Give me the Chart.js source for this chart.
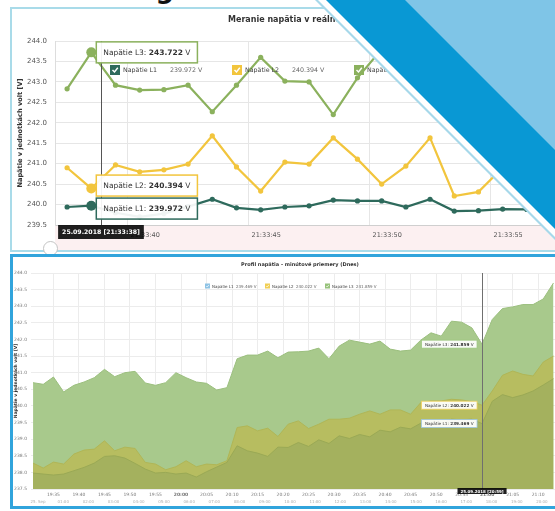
<!DOCTYPE html>
<html>
<head>
<meta charset="utf-8">
<script src="https://cdn.jsdelivr.net/npm/chart.js@4.4.0/dist/chart.umd.min.js"></script>
<style>
  html, body { margin: 0; padding: 0; background: #fff; }
  body { width: 555px; height: 511px; position: relative; overflow: hidden; font-family: "DejaVu Sans", Verdana, sans-serif; }
  .abs { position: absolute; }
  #heading { right: 381px; top: -26px; font: bold 26px "DejaVu Sans"; color: #111; white-space: nowrap; }
  #frameTop { left: 10px; top: 7px; width: 570px; height: 245px; border: 2px solid #a9dbe9; box-sizing: border-box; }
  #navTop { left: 55px; top: 226px; width: 500px; height: 24px; background: #fcf0f1; }
  #handle { left: 43px; top: 241px; width: 13px; height: 13px; border: 1px solid #c4c4c4; border-radius: 50%; background: #fff; }
  #frameBottom { left: 10px; top: 254px; width: 570px; height: 255px; border: 3px solid #31a4dc; box-sizing: border-box; }
  #liveWrap { left: 0; top: 0; width: 555px; height: 250px; z-index: 1; }
  #profileWrap { left: 0; top: 258px; width: 555px; height: 250px; z-index: 1; }
  #titleTop { left: 228px; top: 15px; font: bold 8px "DejaVu Sans"; color: #333; white-space: nowrap; z-index: 2; }
  #titleBottom { left: 180px; width: 240px; top: 261px; text-align: center; font: bold 5px "DejaVu Sans"; color: #333; white-space: nowrap; z-index: 2; }
  .ban { left: 0; top: 0; width: 555px; height: 260px; z-index: 5; }
  #banA { background: #a6d8ea; clip-path: polygon(315px 0, 555px 0, 555px 240px); }
  #banB { background: #fff; clip-path: polygon(318px 0, 555px 0, 555px 237px); }
  #banC { background: #0998d4; clip-path: polygon(326px 0, 555px 0, 555px 229px); }
  #banD { background: #7fc5e7; clip-path: polygon(405px 0, 555px 0, 555px 150px); }
</style>
</head>
<body>
<div id="heading" class="abs">Monitoring</div>
<div id="frameTop" class="abs"></div>
<div id="navTop" class="abs"></div>
<div id="handle" class="abs"></div>
<div id="frameBottom" class="abs"></div>
<div id="titleTop" class="abs">Meranie napätia v reálnom čase</div>
<div id="titleBottom" class="abs">Profil napätia - minútové priemery (Dnes)</div>
<div id="liveWrap" class="abs"><canvas id="live" width="555" height="250"></canvas></div>
<div id="profileWrap" class="abs"><canvas id="profile" width="555" height="250"></canvas></div>
<div id="banA" class="abs ban"></div>
<div id="banB" class="abs ban"></div>
<div id="banC" class="abs ban"></div>
<div id="banD" class="abs ban"></div>

<script>
// --- live chart (seconds within 21:33) ---
const liveDate = "25.09.2018";
const liveClock = "21:33";
const liveSeconds = [37.5, 38.5, 39.5, 40.5, 41.5, 42.5, 43.5, 44.5, 45.5, 46.5,
                     47.5, 48.5, 49.5, 50.5, 51.5, 52.5, 53.5, 54.5, 55.5, 56.5];
const liveL1 = [239.94, 239.972, 239.80, 239.70, 239.78, 239.95, 240.13, 239.92, 239.87, 239.94,
                239.97, 240.11, 240.09, 240.09, 239.94, 240.13, 239.84, 239.85, 239.89, 239.88];
const liveL2 = [240.90, 240.394, 240.97, 240.80, 240.85, 240.99, 241.68, 240.92, 240.33, 241.04,
                240.99, 241.63, 241.11, 240.50, 240.94, 241.63, 240.21, 240.31, 240.90, 240.70];
const liveL3 = [242.83, 243.722, 242.92, 242.80, 242.81, 242.92, 242.27, 242.92, 243.60, 243.02,
                243.00, 242.20, 243.10, 243.80, 243.35, 242.85, 243.25, 243.50, 243.05, 243.20];
const liveHover = 1;
const liveCursor = 38.9;
const liveTicks = [239.5, 244.0];

// --- profile chart (minute averages, today) ---
const profileDate = "25.09.2018";
const profileTimes = ["19:31","19:33","19:35","19:37","19:39","19:41","19:43","19:45","19:47","19:49",
                      "19:51","19:53","19:55","19:57","19:59","20:01","20:03","20:05","20:07","20:09",
                      "20:11","20:13","20:15","20:17","20:19","20:21","20:23","20:25","20:27","20:29",
                      "20:31","20:33","20:35","20:37","20:39","20:41","20:43","20:45","20:47","20:49",
                      "20:51","20:53","20:55","20:57","20:59","21:01","21:03","21:05","21:07","21:09",
                      "21:11","21:13"];
const profileL1 = [237.98, 237.95, 237.92, 237.95, 238.05, 238.15, 238.28, 238.48, 238.50, 238.43,
                   238.27, 238.10, 237.98, 238.00, 237.95, 237.98, 237.86, 238.02, 238.16, 238.30,
                   238.80, 238.65, 238.58, 238.48, 238.76, 238.75, 238.90, 238.78, 238.98, 238.87,
                   239.10, 239.02, 239.14, 239.07, 239.27, 239.22, 239.36, 239.31, 239.48, 239.46,
                   239.45, 239.60, 239.58, 239.60, 239.469, 240.14, 240.34, 240.25, 240.33, 240.45,
                   240.63, 240.82];
const profileL2 = [238.28, 238.13, 238.31, 238.25, 238.55, 238.67, 238.70, 238.95, 238.65, 238.76,
                   238.72, 238.30, 238.25, 238.08, 238.17, 238.35, 238.17, 238.25, 238.23, 238.35,
                   239.35, 239.40, 239.25, 239.33, 239.08, 239.45, 239.55, 239.32, 239.45, 239.60,
                   239.60, 239.63, 239.75, 239.85, 239.75, 239.88, 239.88, 239.75, 240.10, 240.15,
                   240.15, 240.20, 240.18, 240.13, 240.022, 240.45, 240.92, 241.05, 240.95, 240.90,
                   241.32, 241.50];
const profileL3 = [240.70, 240.65, 240.87, 240.42, 240.62, 240.72, 240.85, 241.10, 240.88, 241.00,
                   241.04, 240.69, 240.62, 240.70, 241.00, 240.85, 240.72, 240.68, 240.48, 240.55,
                   241.42, 241.53, 241.53, 241.65, 241.45, 241.62, 241.63, 241.65, 241.74, 241.42,
                   241.80, 241.98, 241.92, 241.86, 241.95, 241.71, 241.65, 241.68, 241.98, 242.20,
                   242.10, 242.55, 242.52, 242.35, 241.859, 242.60, 242.93, 242.98, 243.05, 243.05,
                   243.22, 243.70];
const profileHover = 44;
const profileRange = ["19:30.6", "21:13.3"];
const navDayLabel = "25. Sep";

Chart.defaults.font.family = '"DejaVu Sans", Verdana, sans-serif';

const pad = (n) => String(Math.round(n)).padStart(2, "0");
const toMin = (t) => { const [h, m] = t.split(":"); return +h * 60 + parseFloat(m); };
const clock = (m) => pad(Math.floor(m / 60)) + ":" + pad(m % 60);

// highcharts-like split tooltip with crosshair and date flag
const splitTooltip = {
  id: "splitTooltip",
  afterDatasetsDraw(chart, args, o) {
    if (o.index == null) return;
    const ctx = chart.ctx, area = chart.chartArea, idx = o.index;
    const metas = chart.data.datasets.map((ds, i) => ({ ds, el: chart.getDatasetMeta(i).data[idx] }));
    const cx = o.cursor != null ? chart.scales.x.getPixelForValue(o.cursor) : metas[0].el.x;
    ctx.save();
    ctx.strokeStyle = o.lineColor;
    ctx.lineWidth = 1;
    ctx.beginPath();
    ctx.moveTo(Math.round(cx) + 0.5, area.top);
    ctx.lineTo(Math.round(cx) + 0.5, area.bottom);
    ctx.stroke();

    const fontN = o.font + 'px "DejaVu Sans"';
    const fontB = "bold " + o.font + 'px "DejaVu Sans"';
    const boxes = metas.map(({ ds, el }) => {
      const label = ds.label + ": ", val = ds.data[idx].y.toFixed(3), unit = " V";
      ctx.font = fontN;
      const w1 = ctx.measureText(label).width, w3 = ctx.measureText(unit).width;
      ctx.font = fontB;
      const w2 = ctx.measureText(val).width;
      return { ds, label, val, unit, w1, w2, w3, w: w1 + w2 + w3 + o.pad * 2, y: el.y, px: el.x };
    }).sort((a, b) => a.y - b.y);
    for (let i = 1; i < boxes.length; i++) {
      const d = boxes[i - 1].y + o.boxH + o.gap - boxes[i].y;
      if (d > 0) { boxes[i - 1].y -= d / 2; boxes[i].y += d / 2; }
    }
    ctx.textBaseline = "middle";
    boxes.forEach((b) => {
      const x = o.side === "right" ? b.px + o.offset : b.px - o.offset - b.w;
      const y = b.y - o.boxH / 2;
      ctx.fillStyle = "rgba(255,255,255,0.93)";
      ctx.fillRect(x, y, b.w, o.boxH);
      ctx.strokeStyle = b.ds.tipColor || b.ds.borderColor;
      ctx.lineWidth = o.border;
      ctx.strokeRect(x, y, b.w, o.boxH);
      ctx.fillStyle = "#333";
      let tx = x + o.pad;
      ctx.font = fontN; ctx.fillText(b.label, tx, b.y + 0.5); tx += b.w1;
      ctx.font = fontB; ctx.fillText(b.val, tx, b.y + 0.5); tx += b.w2;
      ctx.font = fontN; ctx.fillText(b.unit, tx, b.y + 0.5);
    });

    ctx.font = "bold " + o.dateFont + 'px "DejaVu Sans"';
    const dw = ctx.measureText(o.date).width + o.datePad * 2;
    const dx = Math.max(area.left, cx - dw / 2);
    const dy = area.bottom + o.dateDy;
    ctx.fillStyle = "rgba(0,0,0,0.88)";
    ctx.fillRect(dx, dy, dw, o.dateH);
    ctx.fillStyle = "#fff";
    ctx.fillText(o.date, dx + o.datePad, dy + o.dateH / 2 + 0.5);
    ctx.restore();
  }
};

// legend floating inside the plot, with the hovered values
const floatLegend = {
  id: "floatLegend",
  afterDraw(chart, args, o) {
    if (o.x == null) return;
    const ctx = chart.ctx;
    ctx.save();
    ctx.textBaseline = "middle";
    chart.data.datasets.forEach((ds, i) => {
      const x = o.x + i * o.step, y = o.y, s = o.sq;
      ctx.fillStyle = ds.legendColor || ds.borderColor;
      ctx.fillRect(x, y - s / 2, s, s);
      ctx.strokeStyle = "#fff";
      ctx.lineWidth = Math.max(0.6, s / 7);
      ctx.beginPath();
      ctx.moveTo(x + s * 0.25, y);
      ctx.lineTo(x + s * 0.45, y + s * 0.2);
      ctx.lineTo(x + s * 0.78, y - s * 0.22);
      ctx.stroke();
      ctx.font = o.font + 'px "DejaVu Sans"';
      ctx.fillStyle = "#444";
      ctx.fillText(ds.label, x + o.labelDx, y + 0.5);
      ctx.fillStyle = "#666";
      ctx.fillText(ds.data[o.index].y.toFixed(3) + " V", x + o.valueDx, y + 0.5);
    });
    ctx.restore();
  }
};

const liveSeries = (label, values, color) => ({
  label,
  data: liveSeconds.map((s, i) => ({ x: s, y: values[i] })),
  borderColor: color,
  backgroundColor: color,
  borderWidth: 2.2,
  tension: 0,
  pointRadius: (c) => (c.dataIndex === liveHover ? 5 : 2.6),
  pointBorderWidth: 0,
  pointBackgroundColor: color
});

new Chart(document.getElementById("live"), {
  type: "line",
  data: {
    datasets: [
      liveSeries("Napätie L1", liveL1, "#2e6a5c"),
      liveSeries("Napätie L2", liveL2, "#f2c53d"),
      liveSeries("Napätie L3", liveL3, "#8bb15d")
    ]
  },
  options: {
    responsive: false,
    animation: false,
    layout: { padding: { top: 41, right: 10, left: 0, bottom: 0 } },
    plugins: {
      legend: { display: false },
      tooltip: { enabled: false },
      title: { display: false },
      splitTooltip: {
        index: liveHover, cursor: liveCursor, side: "right", offset: 5, boxH: 21, gap: 2,
        font: 7.5, pad: 7, border: 1.5, lineColor: "#555",
        date: liveDate + " [" + liveClock + ":" + pad(Math.floor(liveSeconds[liveHover])) + "]",
        dateFont: 6.2, datePad: 4, dateH: 14, dateDy: 0
      },
      floatLegend: { index: liveHover, x: 110, y: 70, step: 122, sq: 10, font: 6.3, labelDx: 13, valueDx: 60 }
    },
    scales: {
      x: {
        type: "linear", min: 37, max: 57.25,
        grid: { color: "#e6e6e6", drawTicks: false },
        border: { color: "#cfcfcf" },
        ticks: {
          stepSize: 5, includeBounds: false, align: "start", labelOffset: 3, padding: 6,
          maxRotation: 0, autoSkip: false, color: "#555", font: { size: 6.5 },
          callback: (v) => liveClock + ":" + pad(v)
        },
        afterFit: (s) => { s.height = 25; }
      },
      y: {
        min: liveTicks[0], max: liveTicks[1],
        grid: { color: "#e6e6e6", drawTicks: false },
        border: { color: "#dddddd" },
        ticks: { stepSize: 0.5, padding: 8, color: "#555", font: { size: 7 }, callback: (v) => v.toFixed(1) },
        title: {
          display: true, text: "Napätie v jednotkách volt [V]", color: "#333",
          font: { size: 6.6, weight: "bold" }, padding: { top: 16, bottom: 0 }
        },
        afterFit: (s) => { s.width = 55; }
      }
    }
  },
  plugins: [splitTooltip, floatLegend]
});

const profileSeries = (label, values, fill, line, tip, legend) => ({
  label,
  data: profileTimes.map((t, i) => ({ x: toMin(t), y: values[i] })),
  fill: "start",
  backgroundColor: fill,
  borderColor: line,
  borderWidth: 1,
  tension: 0,
  pointRadius: 0,
  tipColor: tip,
  legendColor: legend
});

new Chart(document.getElementById("profile"), {
  type: "line",
  data: {
    datasets: [
      profileSeries("Napätie L1", profileL1, "#a4b15e", "#9aa955", "#9cc4dd", "#8ec3e5"),
      profileSeries("Napätie L2", profileL2, "#b7bd60", "#b0b656", "#efd05a", "#f1cf55"),
      profileSeries("Napätie L3", profileL3, "#a8c98c", "#9bbf7e", "#9cc77f", "#97c27a")
    ]
  },
  options: {
    responsive: false,
    animation: false,
    layout: { padding: { top: 15, right: 0, left: 0, bottom: 0 } },
    plugins: {
      legend: { display: false },
      tooltip: { enabled: false },
      title: { display: false },
      splitTooltip: {
        index: profileHover, side: "left", offset: 5, boxH: 8, gap: 1,
        font: 4.2, pad: 3.5, border: 0.8, lineColor: "#6f6f6f",
        date: profileDate + " [" + profileTimes[profileHover] + "]",
        dateFont: 4, datePad: 3, dateH: 6, dateDy: -1
      },
      floatLegend: { index: profileHover, x: 205, y: 28, step: 60, sq: 5, font: 4, labelDx: 7, valueDx: 31 }
    },
    scales: {
      x: {
        type: "linear", weight: 0,
        min: toMin(profileRange[0]), max: toMin(profileRange[1]),
        grid: { color: "#ececec", drawTicks: false },
        border: { display: false },
        ticks: {
          stepSize: 5, includeBounds: false, padding: 3, maxRotation: 0, autoSkip: false, color: "#777",
          font: (c) => ({ size: 4.5, weight: c.tick && c.tick.value % 60 === 0 ? "bold" : "normal" }),
          callback: (v) => clock(v)
        },
        afterFit: (s) => { s.height = 9; }
      },
      nav: {
        type: "linear", axis: "x", position: "bottom", weight: 1,
        min: -0.278, max: 20.52,
        grid: { display: false, drawTicks: false },
        border: { display: false },
        ticks: {
          stepSize: 1, includeBounds: false, padding: 2, maxRotation: 0, autoSkip: false, color: "#b0b0b0",
          font: { size: 4 },
          callback: (v) => (v === 0 ? navDayLabel : pad(v) + ":00")
        },
        afterFit: (s) => { s.height = 10; }
      },
      y: {
        min: 237.5, max: 244,
        grid: { color: "#ececec", drawTicks: false },
        border: { display: false },
        ticks: { stepSize: 0.5, padding: 4, color: "#777", font: { size: 4.5 }, callback: (v) => v.toFixed(1) },
        title: {
          display: true, text: "Napätie v jednotkách volt [V]", color: "#333",
          font: { size: 4.5, weight: "bold" }, padding: { top: 13, bottom: 0 }
        },
        afterFit: (s) => { s.width = 31; }
      }
    }
  },
  plugins: [splitTooltip, floatLegend]
});
</script>
</body>
</html>
